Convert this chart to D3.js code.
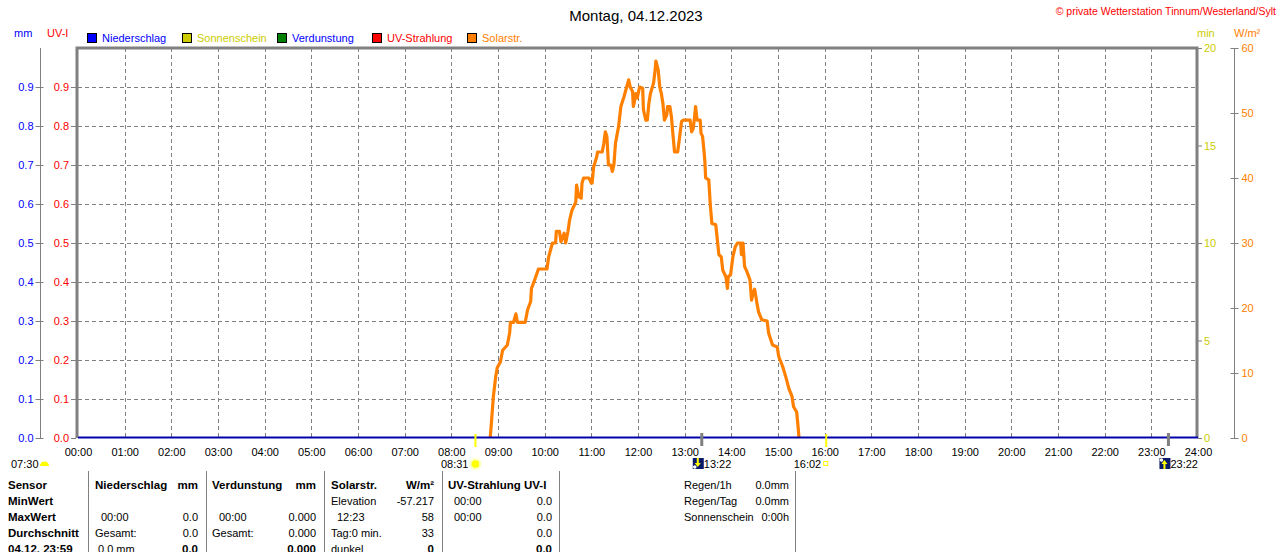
<!DOCTYPE html>
<html><head><meta charset="utf-8">
<script src="https://cdn.jsdelivr.net/npm/d3@7/dist/d3.min.js"></script>
<style>
html,body{margin:0;padding:0;background:#fff;}
svg{display:block;font-family:"Liberation Sans",Arial,sans-serif;}
</style></head>
<body>
<svg id="c" width="1280" height="552"></svg>
<script>
// ---------- data ----------
const title = "Montag, 04.12.2023";
const copyright = "\u00A9 private Wetterstation Tinnum/Westerland/Sylt";
const hourTicks = d3.range(0, 25);              // 00:00 .. 24:00
const uvTicks = [0,0.1,0.2,0.3,0.4,0.5,0.6,0.7,0.8,0.9];
const minTicks = [0,5,10,15,20];
const wTicks = [0,10,20,30,40,50,60];
const legendNames = ["Niederschlag","Sonnenschein","Verdunstung","UV-Strahlung","Solarstr."];
const legendBoxColors = ["#0000ff","#cccc00","#008000","#ff0000","#ff8000"];
const legendTextColors = ["#0000ff","#cccc00","#0000ff","#ff0000","#ff8000"];
// solar radiation (W/m²) vs minute of day
const solarMinutes = [530,532,534,537,539,543,546,552,555,556,560,563,565,575,578,582,583,588,592,603,605,610,614,615,619,621,625,627,630,632,635,640,641,644,647,648,650,657,660,661,663,667,668,674,676,678,680,682,685,687,689,691,695,698,702,705,708,710,713,714,715,717,719,722,726,727,730,732,734,736,740,742,743,746,748,750,752,754,757,758,761,763,765,767,771,773,776,778,787,789,791,793,794,796,800,801,803,805,806,807,811,813,815,820,822,824,827,829,833,835,836,839,842,845,848,852,853,855,857,860,864,866,868,870,873,875,879,886,888,893,899,901,906,910,914,918,920,924,926,927];
const solarValues  = [0,3.1,6.3,9.4,10.8,11.7,13.5,14.3,16.2,17.8,17.8,19.1,17.8,17.8,19.7,21.0,23.0,24.6,26.0,26.0,27.8,30.0,30.0,31.8,31.8,30.2,31.5,30.0,31.8,33.5,35.0,36.3,38.9,37.1,36.9,39.2,40.0,40.0,39.2,39.2,41.7,43.3,44.0,44.0,45.3,47.1,46.4,42.0,42.0,41.0,42.0,45.3,47.9,51.0,52.5,53.8,55.1,54.0,53.3,51.0,51.5,53.0,52.3,54.0,53.8,50.5,48.9,48.9,51.5,53.0,54.6,56.6,58.0,56.6,54.0,53.0,51.5,48.9,49.7,51.0,51.0,49.4,46.6,44.0,44.0,45.8,48.7,48.9,48.9,47.1,47.6,49.7,51.0,48.9,48.9,46.9,46.4,44.0,42.5,40.0,39.7,35.8,33.0,32.8,30.5,28.2,27.9,25.8,24.8,23.0,24.8,25.1,27.9,29.4,30.0,30.0,28.2,30.0,26.4,25.6,24.3,21.2,22.3,22.9,20.7,19.4,18.2,18.0,16.1,14.3,14.0,12.5,11.0,9.4,7.6,6.4,4.8,4.0,1.5,0];
// precipitation (mm) – flat zero all day
const rainMinutes = [0,1440];
const rainValues = [0,0];
// sun / moon events (minute of day)
const sunriseMin = 511, sunsetMin = 962, moonMin = [802,1402];
const eventLabels = [["07:30",0],["08:31",511],["13:22",802],["16:02",962],["23:22",1402]];
// table
const tableHeader = [["Sensor",8,"start"],["Niederschlag",95,"start"],["mm",198,"end"],["Verdunstung",212,"start"],["mm",316,"end"],["Solarstr.",331,"start"],["W/m\u00B2",434,"end"],["UV-Strahlung UV-I",448,"start"]];
const tableRows = [
  [["MinWert",8,"start",1],["Elevation",331,"start",0],["-57.217",434,"end",0],["00:00",454,"start",0],["0.0",552,"end",0]],
  [["MaxWert",8,"start",1],["00:00",101,"start",0],["0.0",198,"end",0],["00:00",219,"start",0],["0.000",316,"end",0],["12:23",337,"start",0],["58",434,"end",0],["00:00",454,"start",0],["0.0",552,"end",0]],
  [["Durchschnitt",8,"start",1],["Gesamt:",95,"start",0],["0.0",198,"end",0],["Gesamt:",212,"start",0],["0.000",316,"end",0],["Tag:0 min.",331,"start",0],["33",434,"end",0],["0.0",552,"end",0]],
  [["04.12. 23:59",8,"start",1],["0.0 mm",98,"start",0],["0.0",198,"end",1],["0.000",316,"end",1],["dunkel",331,"start",0],["0",434,"end",1],["0.0",552,"end",1]]
];
const sideRows = [["Regen/1h","0.0mm"],["Regen/Tag","0.0mm"],["Sonnenschein","0:00h"]];
const tableLines = [88,206,324,442,559,795];

// ---------- scales ----------
const L = 78, R = 1198, T = 48, B = 438;
const x = d3.scaleLinear().domain([0,1440]).range([L,R]);
const yUV = d3.scaleLinear().domain([0,1]).range([B,T]);
const yMin = d3.scaleLinear().domain([0,20]).range([B,T]);
const yW = d3.scaleLinear().domain([0,60]).range([B,T]);

const svg = d3.select("#c");
const grey = "#808080";

// title
svg.append("text").attr("x",636).attr("y",21).attr("text-anchor","middle")
  .attr("font-size",15).attr("fill","#000").text(title);
svg.append("text").attr("x",1276).attr("y",15).attr("text-anchor","end")
  .attr("font-size",10.5).attr("fill","#ff0000").text(copyright);

// unit labels
svg.append("text").attr("x",14).attr("y",37).attr("font-size",11).attr("fill","#0000ff").text("mm");
svg.append("text").attr("x",47).attr("y",37).attr("font-size",11).attr("fill","#ff0000").text("UV-I");
svg.append("text").attr("x",1197).attr("y",37).attr("font-size",11).attr("fill","#cccc00").text("min");
svg.append("text").attr("x",1234).attr("y",37).attr("font-size",11).attr("fill","#ff8000").text("W/m\u00B2");

// legend
const lg = svg.append("g");
const legX = [87,182,277,372,467];
legendNames.forEach((n,i)=>{
  lg.append("rect").attr("x",legX[i]+0.5).attr("y",33.5).attr("width",9).attr("height",9)
    .attr("fill",legendBoxColors[i]).attr("stroke","#000").attr("stroke-width",1);
  lg.append("text").attr("x",legX[i]+15).attr("y",42).attr("font-size",11)
    .attr("fill",legendTextColors[i]).text(n);
});

// grid
const grid = svg.append("g").attr("stroke",grey).attr("stroke-width",1).attr("stroke-dasharray","4,3");
hourTicks.slice(1,24).forEach(h=>{
  grid.append("line").attr("x1",Math.round(x(h*60))+0.5).attr("x2",Math.round(x(h*60))+0.5).attr("y1",T).attr("y2",B);
});
uvTicks.slice(1).forEach(v=>{
  grid.append("line").attr("x1",L).attr("x2",R).attr("y1",Math.round(yUV(v))+0.5).attr("y2",Math.round(yUV(v))+0.5);
});

// frame
svg.append("path").attr("d",`M${L-1},${B} V${T} H${R-1} V${B}`)
  .attr("fill","none").attr("stroke",grey).attr("stroke-width",3);

// mm axis (left outer)
const mmAxis = svg.append("g").attr("transform","translate(40.5,0)")
  .call(d3.axisLeft(yUV).tickValues(uvTicks).tickFormat(d3.format(".1f")).tickSize(5).tickPadding(2));
mmAxis.select(".domain").attr("d",`M0,${T}V${B}`).attr("stroke",grey);
mmAxis.selectAll(".tick line").attr("stroke",grey).attr("x2",-5).attr("x1",3);
mmAxis.selectAll("text").attr("fill","#0000ff").attr("font-size",11).attr("font-family","Liberation Sans, Arial");

// UV axis
const uvAxis = svg.append("g").attr("transform",`translate(${L-2},0)`)
  .call(d3.axisLeft(yUV).tickValues(uvTicks).tickFormat(d3.format(".1f")).tickSize(5).tickPadding(2));
uvAxis.select(".domain").remove();
uvAxis.selectAll(".tick line").attr("stroke",grey);
uvAxis.selectAll("text").attr("fill","#ff0000").attr("font-size",11).attr("font-family","Liberation Sans, Arial");

// min axis (right)
const minAxis = svg.append("g").attr("transform",`translate(${R},0)`)
  .call(d3.axisRight(yMin).tickValues(minTicks).tickSize(4).tickPadding(2));
minAxis.select(".domain").remove();
minAxis.selectAll(".tick line").attr("stroke",grey);
minAxis.selectAll("text").attr("fill","#cccc00").attr("font-size",11).attr("font-family","Liberation Sans, Arial");

// W/m² axis
const wAxis = svg.append("g").attr("transform","translate(1234.5,0)")
  .call(d3.axisRight(yW).tickValues(wTicks).tickSize(4).tickPadding(3));
wAxis.select(".domain").attr("d",`M0,${T}V${B}`).attr("stroke",grey);
wAxis.selectAll(".tick line").attr("stroke",grey).attr("x1",-4);
wAxis.selectAll("text").attr("fill","#ff8000").attr("font-size",11).attr("font-family","Liberation Sans, Arial");

// x axis labels
const xAxis = svg.append("g").attr("transform",`translate(0,${B})`)
  .call(d3.axisBottom(x).tickValues(hourTicks.map(h=>h*60)).tickFormat(d=>d3.format("02d")(d/60)+":00").tickSize(0).tickPadding(10));
xAxis.select(".domain").remove();
xAxis.selectAll("text").attr("fill","#000").attr("font-size",11).attr("font-family","Liberation Sans, Arial");

// solar line
const line = d3.line().x((d,i)=>x(solarMinutes[i])).y((d,i)=>yW(solarValues[i]));
svg.append("path").datum(solarValues).attr("d",line)
  .attr("fill","none").attr("stroke","#ff8000").attr("stroke-width",3.2).attr("stroke-linejoin","round");

// rain baseline
const rline = d3.line().x((d,i)=>x(rainMinutes[i])).y((d,i)=>yUV(rainValues[i])-0.5);
svg.append("path").datum(rainValues).attr("d",rline)
  .attr("fill","none").attr("stroke","#0000a8").attr("stroke-width",2);

// sun / moon ticks
[sunriseMin,sunsetMin].forEach(m=>{
  svg.append("line").attr("x1",x(m)).attr("x2",x(m)).attr("y1",434).attr("y2",447)
    .attr("stroke","#ffff00").attr("stroke-width",2);
});
moonMin.forEach(m=>{
  svg.append("line").attr("x1",x(m)).attr("x2",x(m)).attr("y1",433).attr("y2",446)
    .attr("stroke",grey).attr("stroke-width",3);
});

// event labels & icons
const ev = svg.append("g").attr("font-size",11).attr("fill","#000");
ev.append("text").attr("x",11).attr("y",468).text(eventLabels[0][0]);
ev.append("path").attr("d","M40,466 A4.5,4.5 0 0 1 49,466 Z").attr("fill","#ffff00");
ev.append("text").attr("x",x(eventLabels[1][1])-7).attr("y",468).attr("text-anchor","end").text(eventLabels[1][0]);
ev.append("circle").attr("cx",x(sunriseMin)).attr("cy",464).attr("r",6).attr("fill","#ffffa0").attr("opacity",0.7);
ev.append("circle").attr("cx",x(sunriseMin)).attr("cy",464).attr("r",3.8).attr("fill","#ffff00");
ev.append("text").attr("x",x(eventLabels[3][1])-5).attr("y",468).attr("text-anchor","end").text(eventLabels[3][0]);
ev.append("rect").attr("x",x(sunsetMin)-2.5).attr("y",461.5).attr("width",4).attr("height",4).attr("fill","none").attr("stroke","#ffff00");
moonMin.forEach((m,i)=>{
  const cx = x(m)-4;
  ev.append("rect").attr("x",cx-5).attr("y",458).attr("width",11).attr("height",11).attr("fill","#0a1a6a");
  ev.append("circle").attr("cx",cx-3).attr("cy",i===0?467:460).attr("r",1.8).attr("fill","#fff");
  const up = i===1;
  ev.append("path").attr("d", up ? `M${cx},460 L${cx+3},464 L${cx+1},464 L${cx+1},469 L${cx-1},469 L${cx-1},464 L${cx-3},464 Z`
                                 : `M${cx},467 L${cx+3},463 L${cx+1},463 L${cx+1},458 L${cx-1},458 L${cx-1},463 L${cx-3},463 Z`)
    .attr("fill","#ffff00");
  ev.append("text").attr("x",cx+6).attr("y",468).text(eventLabels[i===0?2:4][0]);
});

// table
const tb = svg.append("g").attr("font-size",11).attr("fill","#000");
tableLines.forEach(lx=>{
  tb.append("line").attr("x1",lx+0.5).attr("x2",lx+0.5).attr("y1",471).attr("y2",552).attr("stroke",grey).attr("stroke-width",1);
});
tableHeader.forEach(c=>{
  tb.append("text").attr("x",c[1]).attr("y",489).attr("text-anchor",c[2]).attr("font-weight","bold").attr("font-size",11.5).text(c[0]);
});
tableRows.forEach((row,ri)=>{
  row.forEach(c=>{
    tb.append("text").attr("x",c[1]).attr("y",505+ri*16).attr("text-anchor",c[2])
      .attr("font-weight",c[3]?"bold":"normal").attr("font-size",c[3]?11.5:11).text(c[0]);
  });
});
sideRows.forEach((r,i)=>{
  tb.append("text").attr("x",684).attr("y",489+i*16).text(r[0]);
  tb.append("text").attr("x",789).attr("y",489+i*16).attr("text-anchor","end").text(r[1]);
});
</script>
</body></html>
